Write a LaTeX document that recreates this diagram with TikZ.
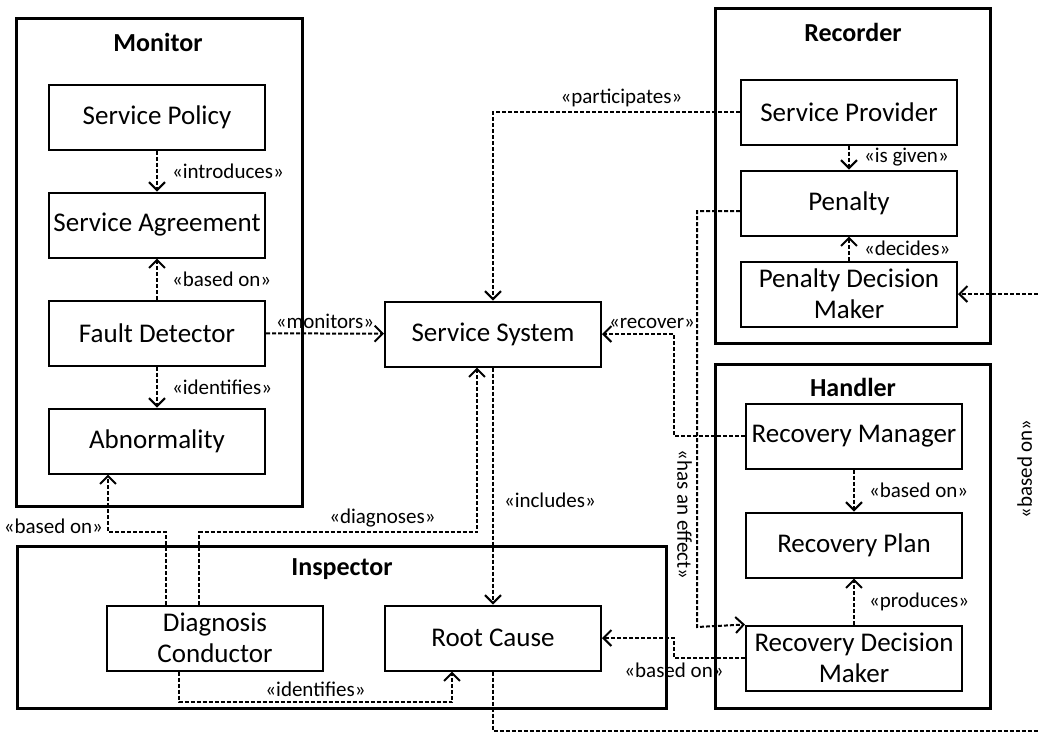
\documentclass[tikz,border=0pt]{standalone}
\usepackage{fontspec}
\setmainfont{Carlito}
\usetikzlibrary{arrows.meta}

\begin{document}
\begin{tikzpicture}[x=0.5pt,y=-0.5pt,node distance=54pt,
    >={Straight Barb[length=4pt,width=8pt]},
    class/.style={draw,line width=1pt,minimum width=108pt,minimum height=32.5pt,
                  align=center,inner xsep=2pt,font=\fontsize{13.5}{15.5}\selectfont},
    group/.style={draw,line width=1.5pt},
    title/.style={font=\fontsize{13}{15}\selectfont\bfseries},
    dep/.style={->,line width=1pt,dash pattern=on 2pt off 1pt},
    lbl/.style={font=\fontsize{10.5}{12}\selectfont,inner sep=2pt}]

  \useasboundingbox (0,0) rectangle (1039,736);

  % packages
  \draw[group] (16,18)  rectangle (302,506);
  \draw[group] (715,8)  rectangle (990,343);
  \draw[group] (715,364) rectangle (990,708);
  \draw[group] (17,546) rectangle (666,708);

  \node[title] (monT) at (158,42)  {Monitor};
  \node[title] (recT) at (853,32)  {Recorder};
  \node[title] (hanT) at (853,387) {Handler};
  \node[title] (insT) at (342,569) {Inspector};

  % classes
  \node[class] (SPol)  at (157,117)         {Service Policy};
  \node[class] (SAgr)  [below of=SPol]      {Service Agreement};
  \node[class] (FDet)  [below of=SAgr]      {Fault Detector};
  \node[class] (Abn)   [below of=FDet]      {Abnormality};

  \node[class] (SSys)  at (493,334)         {Service System};

  \node[class] (SProv) at (849,112)         {Service Provider};
  \node[class] (Pen)   [below of=SProv,node distance=45.5pt] {Penalty};
  \node[class] (PDM)   [below of=Pen,node distance=45.5pt]   {Penalty Decision\\Maker};

  \node[class] (RMan)  at (854,436)         {Recovery Manager};
  \node[class] (RPlan) [below of=RMan,node distance=54.5pt]  {Recovery Plan};
  \node[class] (RDM)   [below of=RPlan,node distance=56.5pt] {Recovery Decision\\Maker};

  \node[class] (DCon)  at (215,638)         {Diagnosis\\Conductor};
  \node[class] (RCau)  [right of=DCon,node distance=139pt] {Root Cause};

  % bend points
  \coordinate (hasEff) at (697,627);
  \coordinate (recX)   at (674,334);
  \coordinate (diagC)  at (477,532);
  \coordinate (baseC)  at (108,532);
  \coordinate (identC) at (452,702);
  \coordinate (farC)   at (1045,731);

  % dependencies
  \path[dep] (SPol)  edge node[lbl,right,xshift=5pt] {«introduces»} (SAgr)
             (FDet)  edge node[lbl,right,xshift=5pt] {«based on»}   (SAgr)
             (FDet)  edge node[lbl,right,xshift=5pt] {«identifies»} (Abn)
             (FDet)  edge node[lbl,above]            {«monitors»}   (SSys)
             (SProv) edge node[lbl,right,xshift=5pt] {«is given»}   (Pen)
             (PDM)   edge node[lbl,right,xshift=5pt] {«decides»}    (Pen)
             (RMan)  edge node[lbl,right,xshift=5pt] {«based on»}   (RPlan)
             (RDM)   edge node[lbl,right,xshift=5pt] {«produces»}   (RPlan)
             (SSys)  edge node[lbl,right,pos=0.56,xshift=3pt] {«includes»} (RCau);

  \draw[dep] (SProv) -| node[lbl,above,pos=0.24] {«participates»} (SSys);
  \draw[dep] ([yshift=-4pt]Pen.west) -| node[lbl,rotate=-90,anchor=north,pos=0.865] {«has an effect»} (hasEff)
             -- (RDM.north west);
  \draw[dep] (RMan) -| (recX) -- node[lbl,above,xshift=7pt] {«recover»} (SSys);
  \draw[dep] (RDM.west) -- node[lbl,below,pos=1] {«based on»} ++(-35.5pt,0) |- (RCau);
  \draw[dep] ([xshift=-8pt]DCon.north) |- node[lbl,above,pos=0.83] {«diagnoses»} (diagC)
             -- (diagC |- SSys.south);
  \draw[dep] ([xshift=-24.5pt]DCon.north) |- (baseC)
             -- node[lbl,left,pos=0,yshift=3pt] {«based on»} (baseC |- Abn.south);
  \draw[dep] ([xshift=-18pt]DCon.south) |- node[lbl,above,pos=0.75] {«identifies»} (identC)
             -- (identC |- RCau.south);
  \draw[dep] (RCau.south) |- (farC) |- node[lbl,xshift=-4pt,rotate=90,anchor=south,pos=0.3] {«based on»} (PDM);
\end{tikzpicture}
\end{document}
